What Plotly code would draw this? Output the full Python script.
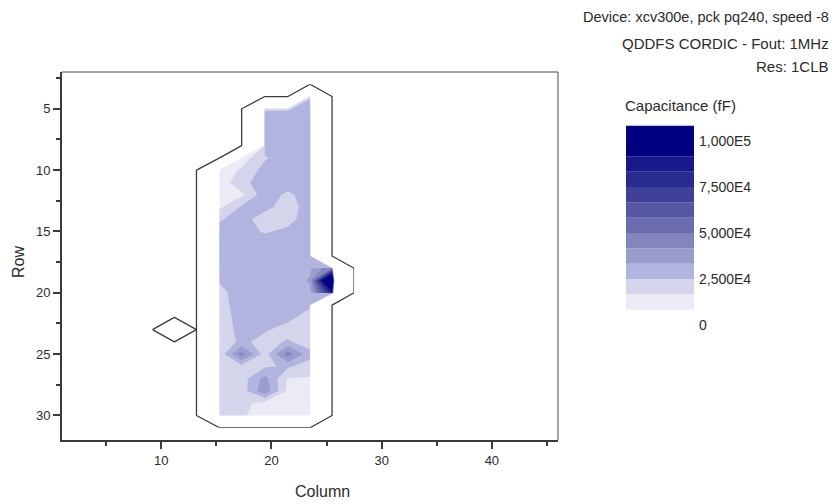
import plotly.graph_objects as go

# ---- data -----------------------------------------------------------------
# Column positions of the sampled grid (outer columns hold no capacitance).
GRID_COLUMNS = [9.2, 11.2, 13.2, 15.3, 17.3, 19.4, 21.5, 23.5, 25.5, 27.5]
GRID_ROWS = list(range(3, 32))

# Columns that carry capacitance, the first row of each, and its values (fF)
COLUMN_X = [11.2, 15.3, 17.3, 19.4, 21.5, 23.5, 25.5]
FIRST_ROW = [23, 10, 9, 5, 5, 4, 18]

CAP_COL_11 = [4000]
CAP_COL_15 = [11000, 12000, 13000, 15000, 24000, 28000, 29000, 29000, 28000, 26000,
              22000, 21000, 20000, 20000, 19000, 19000, 20000, 20000, 20000, 20000,
              20000]
CAP_COL_17 = [12000, 18000, 22000, 15000, 26000, 29000, 29000, 30000, 30000, 30000,
              30000, 30000, 30000, 29000, 28000, 27000, 45000, 22000, 21000, 20000,
              19000, 18000]
CAP_COL_19 = [24000, 29000, 30000, 30000, 24000, 28000, 30000, 30000, 28000, 20000,
              24000, 30000, 30000, 30000, 30000, 30000, 30000, 29000, 26000, 22000,
              21000, 24000, 36000, 40000, 14000, 12000]
CAP_COL_21 = [24000, 30000, 30000, 30000, 30000, 30000, 30000, 23000, 20000, 22000,
              27000, 30000, 30000, 30000, 30000, 30000, 30000, 27000, 22000, 26000,
              46000, 26000, 16000, 14000, 12000, 13000]
CAP_COL_23 = [24000, 29000, 30000, 30000, 30000, 30000, 30000, 30000, 30000, 30000,
              30000, 30000, 30000, 30000, 32000, 34000, 32000, 26000, 22000, 21000,
              20000, 28000, 21000, 16000, 14000, 13000, 14000]
CAP_COL_25 = [50000, 140000, 85000]

COLUMN_VALUES = [CAP_COL_11, CAP_COL_15, CAP_COL_17, CAP_COL_19,
                 CAP_COL_21, CAP_COL_23, CAP_COL_25]

# Contour levels: 12 bands of 8 333.3 fF
LEVEL_STEP = 100000 / 12
N_LEVELS = 11

BAND_COLORS = ["#ffffff", "#ebebf5", "#d4d5eb", "#b1b4de", "#9a9dcc", "#8385bd",
               "#6a6cae", "#5557a2", "#3f4198", "#292b8f", "#17198a", "#000080"]

LEGEND_TICKS = [0, 25000, 50000, 75000, 100000]
LEGEND_TICKTEXT = ["0", "2,500E4", "5,000E4", "7,500E4", "1,000E5"]

# ---- grids ----------------------------------------------------------------
NO_DATA = -1.0e6
ny, nx = len(GRID_ROWS), len(GRID_COLUMNS)
z_fill = [[NO_DATA] * nx for _ in range(ny)]
z_outline = [[0.0] * nx for _ in range(ny)]
for cx, r0, vals in zip(COLUMN_X, FIRST_ROW, COLUMN_VALUES):
    ix = GRID_COLUMNS.index(cx)
    for k, v in enumerate(vals):
        iy = GRID_ROWS.index(r0 + k)
        z_fill[iy][ix] = v
        z_outline[iy][ix] = v

# stepped colour scale: one flat step per contour band
colorscale = [[0.0, BAND_COLORS[0]]]
for k in range(N_LEVELS):
    edge = ((k + 0.5) / N_LEVELS + (k + 1.5) / (N_LEVELS + 1)) / 2
    colorscale.append([edge, BAND_COLORS[k]])
    colorscale.append([edge, BAND_COLORS[k + 1]])
colorscale.append([1.0, BAND_COLORS[-1]])

W, H = 835, 504
FONT = "Liberation Sans, Arial, sans-serif"
TEXT = "#2b2b2b"
AXIS = "#3a3a3a"

fig = go.Figure()

fig.add_trace(go.Contour(
    x=GRID_COLUMNS, y=GRID_ROWS, z=z_fill,
    autocontour=False,
    contours=dict(start=LEVEL_STEP, end=N_LEVELS * LEVEL_STEP, size=LEVEL_STEP,
                  coloring="fill", showlines=False),
    colorscale=colorscale, showscale=False,
    line=dict(width=0, smoothing=0), hoverinfo="skip",
))

fig.add_trace(go.Contour(
    x=GRID_COLUMNS, y=GRID_ROWS, z=z_outline,
    autocontour=False,
    contours=dict(start=1, end=1, size=1, coloring="none"),
    line=dict(color="#3c3c3c", width=1.3, smoothing=0),
    showscale=False, hoverinfo="skip",
))

# colour key as stacked blocks
band_lo = [k * LEVEL_STEP for k in range(1, N_LEVELS + 1)]
band_hi = [(k + 1) * LEVEL_STEP for k in range(1, N_LEVELS)] + [(N_LEVELS + 2) * LEVEL_STEP]
fig.add_trace(go.Bar(
    x=[0] * len(band_lo), base=band_lo,
    y=[h - l for h, l in zip(band_hi, band_lo)],
    width=1, marker=dict(color=BAND_COLORS[1:], line=dict(width=0)),
    xaxis="x2", yaxis="y2", hoverinfo="skip", showlegend=False,
))

tickfont = dict(family=FONT, size=13, color=TEXT)
fig.update_layout(
    width=W, height=H,
    margin=dict(l=0, r=0, t=0, b=0),
    paper_bgcolor="white", plot_bgcolor="white",
    showlegend=False,
    xaxis=dict(
        domain=[62 / W, 558 / W], range=[1, 46], anchor="y",
        showgrid=False, zeroline=False,
        showline=True, linewidth=2, linecolor=AXIS,
        ticks="outside", ticklen=7, tickwidth=1.5, tickcolor=AXIS,
        tickvals=[10, 20, 30, 40], tickfont=tickfont,
        minor=dict(tickvals=[5, 15, 25, 35, 45], ticks="outside",
                   ticklen=4, tickwidth=1.5, tickcolor=AXIS),
        automargin=False,
    ),
    yaxis=dict(
        domain=[1 - 440 / H, 1 - 72 / H], range=[32, 2], anchor="x",
        showgrid=False, zeroline=False,
        showline=True, linewidth=2, linecolor=AXIS,
        ticks="outside", ticklen=7, tickwidth=1.5, tickcolor=AXIS,
        tickvals=[5, 10, 15, 20, 25, 30], tickfont=tickfont,
        minor=dict(tickvals=[2.5, 7.5, 12.5, 17.5, 22.5, 27.5], ticks="outside",
                   ticklen=4, tickwidth=1.5, tickcolor=AXIS),
        automargin=False,
    ),
    xaxis2=dict(domain=[626 / W, 694 / W], range=[-0.5, 0.5], anchor="y2",
                visible=False, fixedrange=True),
    yaxis2=dict(domain=[(H - 325) / H, (H - 122.6) / H], range=[0, 110000],
                anchor="x2", side="right", showgrid=False, zeroline=False,
                showline=False, ticks="", tickvals=LEGEND_TICKS,
                ticktext=LEGEND_TICKTEXT, ticklabelstandoff=4,
                tickfont=dict(family=FONT, size=14, color=TEXT),
                automargin=False),
    shapes=[
        dict(type="line", xref="x domain", yref="y domain", x0=0, x1=1, y0=1, y1=1,
             line=dict(color="#4a4a4a", width=1)),
        dict(type="line", xref="x domain", yref="y domain", x0=1, x1=1, y0=0, y1=1,
             line=dict(color="#4a4a4a", width=1)),
    ],
)

def label(text, x, y, size, xanchor="center", angle=0):
    fig.add_annotation(text=text, x=x / W, y=1 - y / H, xref="paper", yref="paper",
                       xanchor=xanchor, yanchor="middle", showarrow=False,
                       textangle=angle, font=dict(family=FONT, size=size, color=TEXT))

label("Column", 322, 491, 16)
label("Row", 18, 262, 16, angle=-90)
label("Capacitance (fF)", 623, 105, 15, xanchor="left")
label("Device: xcv300e, pck pq240, speed -8", 831, 17, 14.5, xanchor="right")
label("QDDFS CORDIC - Fout: 1MHz", 831, 43, 15, xanchor="right")
label("Res: 1CLB", 831, 67, 15, xanchor="right")

fig.write_html("out.html")
